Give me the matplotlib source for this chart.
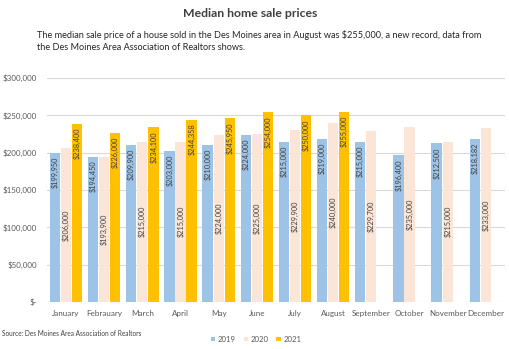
import numpy as np
import matplotlib.pyplot as plt

plt.rcParams['font.family'] = ['Lato', 'DejaVu Sans']

months = ['January', 'Febrauary', 'March', 'April', 'May', 'June', 'July',
          'August', 'September', 'October', 'November', 'December']
years = ['2019', '2020', '2021']
prices_2019 = [199950, 194450, 209900, 203000, 210000, 224000, 215000, 219000,
               215000, 196400, 212500, 218182]
prices_2020 = [206000, 193900, 215000, 215000, 224000, 225000, 229900, 240000,
               229700, 235000, 215000, 233000]
prices_2021 = [238400, 226000, 234100, 244358, 245950, 254000, 250000, 255000]
yticks = [0, 50000, 100000, 150000, 200000, 250000, 300000]

colors = ['#9dc3e6', '#fbe5d6', '#ffc000']
txt = '#404040'

fig = plt.figure(figsize=(5.1, 3.49), dpi=100)
ax = fig.add_axes([0.092, 0.135, 0.898, 0.641])

x = np.arange(len(months))
w = 0.27
off = 0.29
series = [prices_2019, prices_2020, prices_2021]
for i, vals in enumerate(series):
    xs = x[:len(vals)] + (i - 1) * off
    ax.bar(xs, vals, width=w, color=colors[i], label=years[i], zorder=2)
    for xx, v in zip(xs, vals):
        s = '${:,}'.format(v)
        if i == 1:
            # 2020 labels sit in the middle of the bar
            ax.text(xx, v / 2, s, rotation=90, ha='center', va='center',
                    fontsize=5.3, color=txt)
        else:
            ax.text(xx, v - 5000, s, rotation=90, ha='center', va='top',
                    fontsize=5.3, color=txt)

ax.set_xlim(-0.5, 11.5)
ax.set_ylim(0, 300000)
ax.set_yticks(yticks)
ax.set_yticklabels(['$-'] + ['${:,}'.format(t) for t in yticks[1:]])
ax.set_xticks(x)
ax.set_xticklabels(months)
ax.tick_params(axis='both', length=0, labelsize=5.8, labelcolor='#595959')
ax.tick_params(axis='x', pad=6)
ax.tick_params(axis='y', pad=7)
ax.yaxis.grid(True, color='#d9d9d9', linewidth=0.8, zorder=0)
for sp in ax.spines.values():
    sp.set_visible(False)

fig.text(0.49, 0.96, 'Median home sale prices', ha='center', va='center',
         fontsize=8.8, fontweight='bold', color='#404040')
fig.text(0.073, 0.915, 'The median sale price of a house sold in the Des Moines area in August was $255,000, a new record, data from\n'
         'the Des Moines Area Association of Realtors shows.',
         ha='left', va='top', fontsize=6.6, color='#262626', linespacing=1.45)
fig.text(0.004, 0.043, 'Source: Des Moines Area Association of Realtors',
         ha='left', va='center', fontsize=4.7, color='#404040')

fig.legend(loc='center', bbox_to_anchor=(0.502, 0.028), ncol=3, frameon=False,
           fontsize=5.6, handlelength=0.6, handleheight=0.6, handletextpad=0.3,
           columnspacing=1.0, labelcolor='#595959')

fig.savefig('out.png', dpi=100)
